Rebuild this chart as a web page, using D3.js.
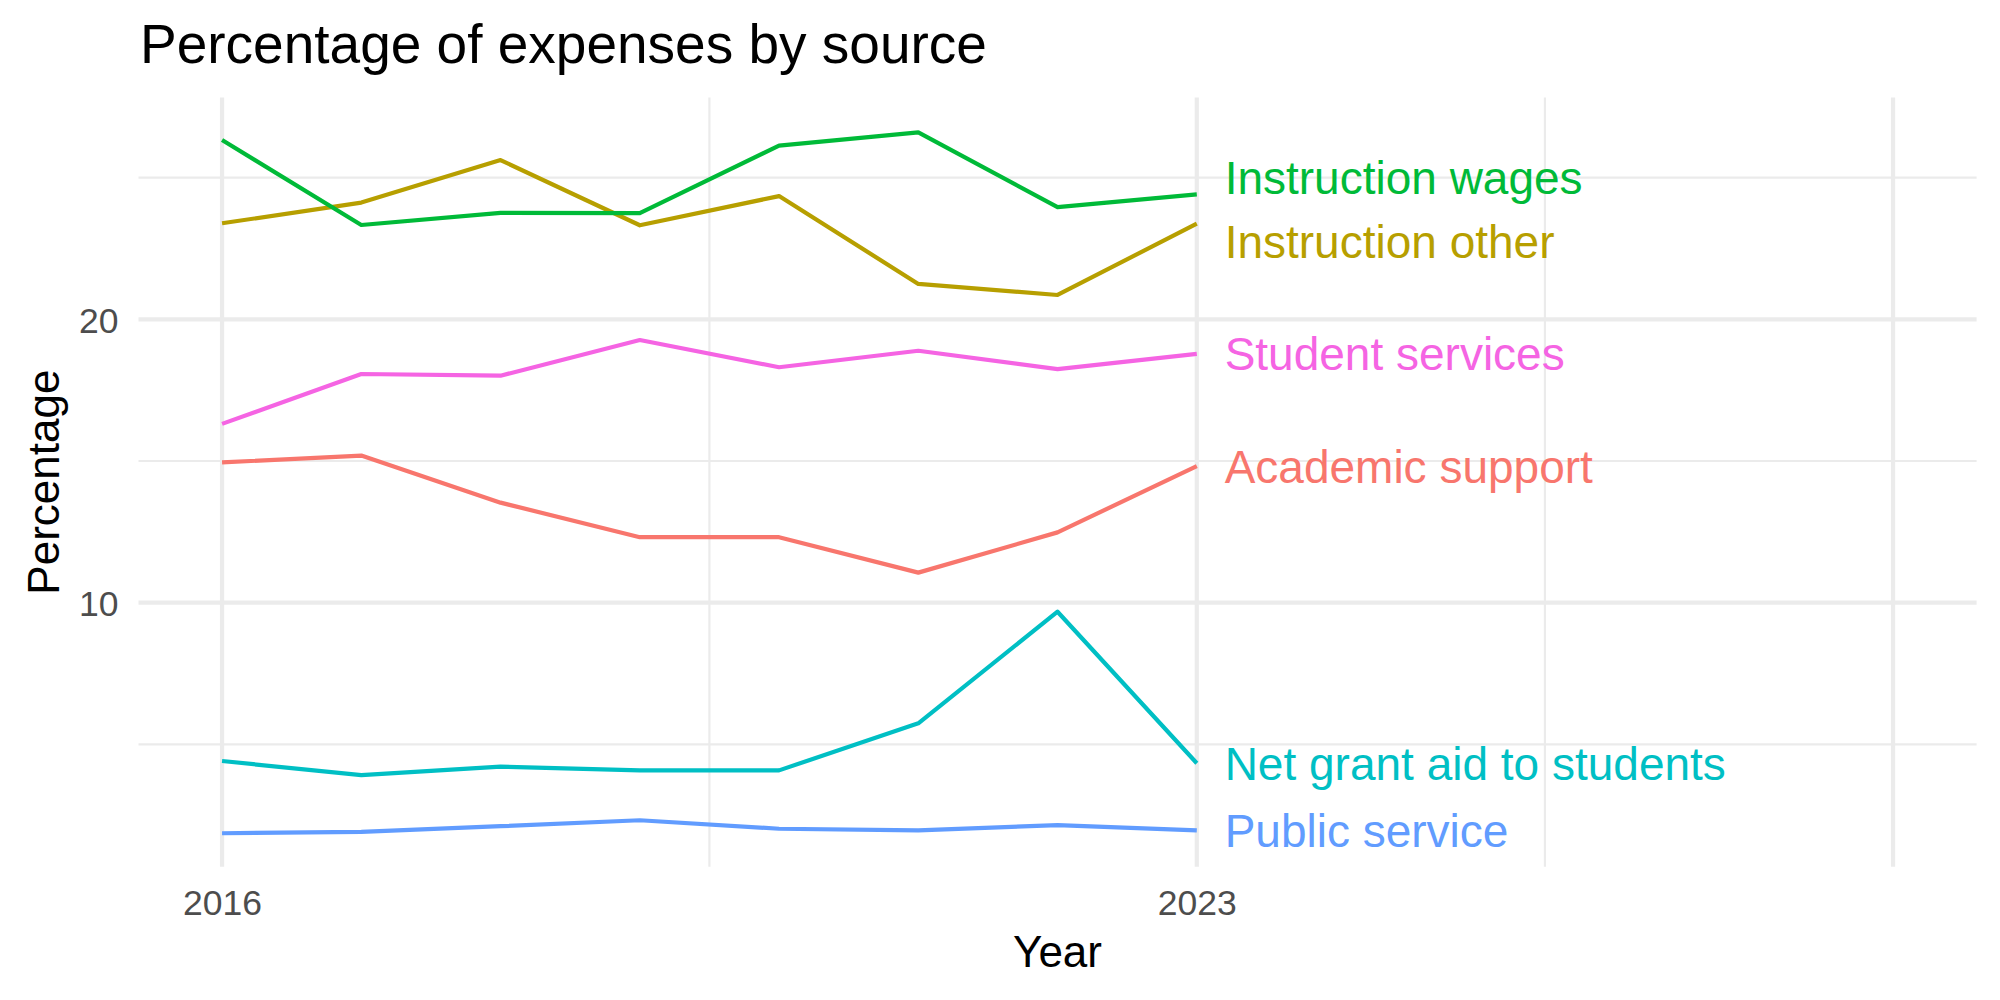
<!DOCTYPE html>
<html>
<head>
<meta charset="utf-8">
<script src="https://cdn.jsdelivr.net/npm/d3@7"></script>
<style>
  body { margin: 0; background: #fff; }
  text { font-family: "Liberation Sans", Arial, sans-serif; }
</style>
</head>
<body>
<div id="chart"></div>
<script>
// values
const years = [2016, 2017, 2018, 2019, 2020, 2021, 2022, 2023];
const sources = ["Academic support", "Instruction other", "Instruction wages",
                 "Net grant aid to students", "Public service", "Student services"];
const academicSupport   = [14.95, 15.19, 13.53, 12.31, 12.31, 11.06, 12.48, 14.82];
const instructionOther  = [23.39, 24.12, 25.62, 23.32, 24.35, 21.25, 20.86, 23.38];
const instructionWages  = [26.33, 23.33, 23.76, 23.75, 26.13, 26.60, 23.96, 24.41];
const netGrantAid       = [4.41, 3.91, 4.21, 4.08, 4.08, 5.74, 9.68, 4.33];
const publicService     = [1.86, 1.91, 2.11, 2.32, 2.02, 1.96, 2.15, 1.96];
const studentServices   = [16.31, 18.07, 18.01, 19.27, 18.31, 18.89, 18.24, 18.78];
const seriesColors = ["#F8766D", "#B79F00", "#00BA38", "#00BFC4", "#619CFF", "#F564E3"];

const xMajor = [2016, 2023, 2028];
const xTickLabels = ["2016", "2023", ""];
const xMinor = [2019.5, 2025.5];
const yMajor = [10, 20];
const yMinor = [5, 15, 25];

class LabelledLines {
  constructor(parentId, width, height) {
    this.parentId = parentId;
    this.width = width;
    this.height = height;
    this.panel = {left: 138.5, right: 1976.6, top: 97.5, bottom: 866.7};
    this.data = sources.map((s, i) => ({
      name: s,
      color: seriesColors[i],
      values: [academicSupport, instructionOther, instructionWages,
               netGrantAid, publicService, studentServices][i]
        .map((v, j) => ({year: years[j], value: v}))
    }));
    this.init();
  }

  init() {
    let vis = this;
    const p = vis.panel;

    vis.svg = d3.select("#" + vis.parentId)
      .append("svg")
      .attr("width", vis.width)
      .attr("height", vis.height);

    vis.x = d3.scaleLinear().domain([2015.4, 2028.6]).range([p.left, p.right]);
    vis.y = d3.scaleLinear().domain([0.68, 27.83]).range([p.bottom, p.top]);

    const grid = vis.svg.append("g");
    grid.selectAll(".ymin").data(yMinor).join("line")
      .attr("x1", p.left).attr("x2", p.right)
      .attr("y1", d => vis.y(d)).attr("y2", d => vis.y(d))
      .style("stroke", "#EBEBEB").style("stroke-width", 2.2);
    grid.selectAll(".xmin").data(xMinor).join("line")
      .attr("y1", p.top).attr("y2", p.bottom)
      .attr("x1", d => vis.x(d)).attr("x2", d => vis.x(d))
      .style("stroke", "#EBEBEB").style("stroke-width", 2.2);
    grid.selectAll(".ymaj").data(yMajor).join("line")
      .attr("x1", p.left).attr("x2", p.right)
      .attr("y1", d => vis.y(d)).attr("y2", d => vis.y(d))
      .style("stroke", "#EBEBEB").style("stroke-width", 4.2);
    grid.selectAll(".xmaj").data(xMajor).join("line")
      .attr("y1", p.top).attr("y2", p.bottom)
      .attr("x1", d => vis.x(d)).attr("x2", d => vis.x(d))
      .style("stroke", "#EBEBEB").style("stroke-width", 4.2);

    // axes, no domain or ticks (theme_minimal look)
    const xAxis = vis.svg.append("g")
      .attr("transform", "translate(0," + p.bottom + ")")
      .call(d3.axisBottom(vis.x).tickValues(xMajor)
        .tickFormat((d, i) => xTickLabels[i]).tickSize(0).tickPadding(0));
    xAxis.select(".domain").remove();
    xAxis.selectAll("text")
      .attr("y", 48).attr("dy", 0)
      .style("font-size", "35.5px").style("fill", "#4D4D4D");

    const yAxis = vis.svg.append("g")
      .attr("transform", "translate(" + p.left + ",0)")
      .call(d3.axisLeft(vis.y).tickValues(yMajor).tickSize(0).tickPadding(0));
    yAxis.select(".domain").remove();
    yAxis.selectAll("text")
      .attr("x", -20).attr("dy", "0.36em")
      .style("font-size", "35.5px").style("fill", "#4D4D4D");

    const line = d3.line().x(d => vis.x(d.year)).y(d => vis.y(d.value));

    vis.svg.append("g").selectAll("path")
      .data(vis.data)
      .join("path")
      .attr("d", d => line(d.values))
      .style("fill", "none")
      .style("stroke", d => d.color)
      .style("stroke-width", 4.2)
      .style("stroke-linejoin", "round");

    // end labels, pushed apart when they overlap
    let labels = vis.data.map(d => ({
      name: d.name, color: d.color,
      y: vis.y(d.values[d.values.length - 1].value)
    })).sort((a, b) => a.y - b.y);
    const gap = 64;
    for (let k = 0; k < 50; k++) {
      for (let i = 1; i < labels.length; i++) {
        let over = gap - (labels[i].y - labels[i - 1].y);
        if (over > 0) {
          labels[i - 1].y -= over / 2;
          labels[i].y += over / 2;
        }
      }
    }
    vis.svg.append("g").selectAll("text")
      .data(labels)
      .join("text")
      .attr("x", vis.x(years[years.length - 1] + 0.2))
      .attr("y", d => d.y)
      .attr("dy", "0.36em")
      .style("font-size", "46px")
      .style("fill", d => d.color)
      .text(d => d.name);

    vis.svg.append("text")
      .attr("x", 140).attr("y", 63)
      .style("font-size", "55px").style("fill", "#000")
      .text("Percentage of expenses by source");

    vis.svg.append("text")
      .attr("x", (p.left + p.right) / 2).attr("y", 967)
      .attr("text-anchor", "middle")
      .style("font-size", "44px").style("fill", "#000")
      .text("Year");

    vis.svg.append("text")
      .attr("transform", "translate(59," + ((p.top + p.bottom) / 2) + ")rotate(-90)")
      .attr("text-anchor", "middle")
      .style("font-size", "44px").style("fill", "#000")
      .text("Percentage");
  }
}

new LabelledLines("chart", 2000, 1000);
</script>
</body>
</html>
